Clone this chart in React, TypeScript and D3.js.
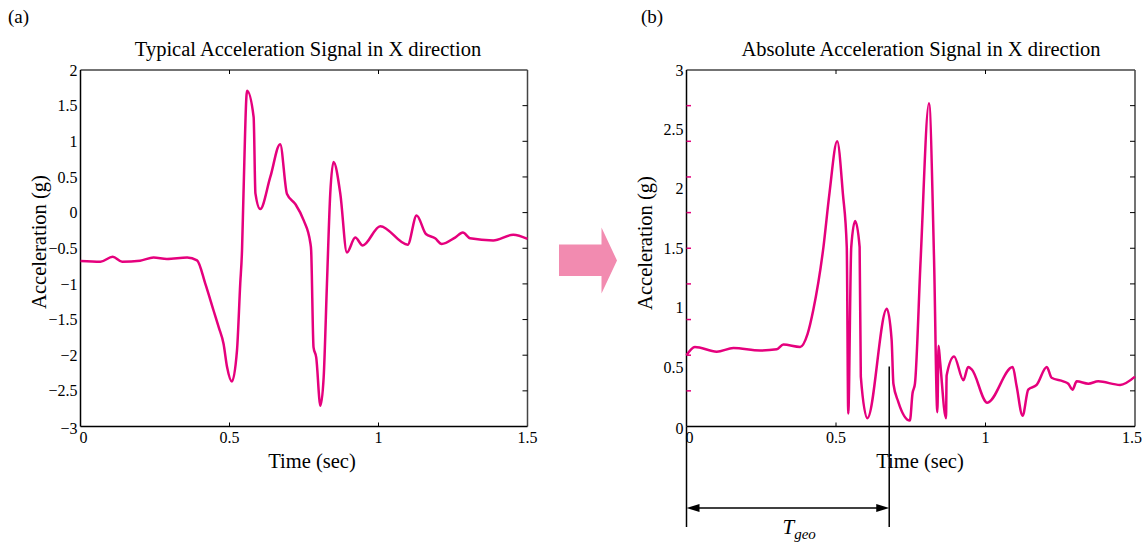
import React from 'react';
import * as d3 from 'd3';

// ---------- data ----------
const timeA = [0, 0.067, 0.108, 0.14, 0.2, 0.245, 0.29, 0.358, 0.391, 0.419, 0.447, 0.464, 0.48, 0.492, 0.508, 0.525, 0.536, 0.542, 0.547, 0.559, 0.581, 0.587, 0.603, 0.637, 0.67, 0.693, 0.721, 0.749, 0.771, 0.774, 0.782, 0.791, 0.805, 0.816, 0.827, 0.838, 0.849, 0.872, 0.894, 0.922, 0.947, 1.006, 1.098, 1.128, 1.159, 1.19, 1.212, 1.257, 1.283, 1.307, 1.385, 1.452, 1.5];
const accelA = [-0.68, -0.69, -0.62, -0.69, -0.675, -0.63, -0.65, -0.63, -0.67, -1.0, -1.38, -1.61, -1.84, -2.17, -2.37, -1.94, -1.0, -0.53, 0.27, 1.71, 1.34, 0.27, 0.05, 0.5, 0.96, 0.26, 0.12, -0.11, -0.42, -0.53, -1.89, -2.03, -2.71, -2.31, -1.0, 0.26, 0.71, 0.26, -0.56, -0.35, -0.46, -0.19, -0.45, -0.04, -0.3, -0.36, -0.44, -0.35, -0.28, -0.36, -0.39, -0.31, -0.37];

const timeB = [0, 0.028, 0.101, 0.157, 0.246, 0.302, 0.324, 0.38, 0.405, 0.424, 0.458, 0.478, 0.504, 0.523, 0.536, 0.541, 0.551, 0.564, 0.579, 0.583, 0.605, 0.67, 0.686, 0.692, 0.708, 0.747, 0.756, 0.764, 0.783, 0.811, 0.828, 0.839, 0.843, 0.848, 0.868, 0.87, 0.895, 0.926, 0.942, 0.954, 1.006, 1.091, 1.104, 1.124, 1.143, 1.171, 1.205, 1.221, 1.26, 1.277, 1.291, 1.305, 1.344, 1.377, 1.45, 1.5];
const absAccelB = [0.6, 0.67, 0.63, 0.66, 0.64, 0.65, 0.69, 0.67, 0.78, 0.98, 1.51, 1.96, 2.4, 1.96, 1.51, 0.11, 1.51, 1.73, 1.51, 0.42, 0.07, 0.99, 0.73, 0.36, 0.21, 0.05, 0.28, 0.36, 1.4, 2.72, 1.4, 0.12, 0.68, 0.55, 0.07, 0.43, 0.59, 0.39, 0.5, 0.48, 0.2, 0.5, 0.34, 0.09, 0.31, 0.35, 0.5, 0.41, 0.38, 0.36, 0.31, 0.38, 0.36, 0.38, 0.35, 0.42];

const xTicks = [0, 0.5, 1, 1.5];
const xTickLabels = ['0', '0.5', '1', '1.5'];
const yTicksA = [2, 1.5, 1, 0.5, 0, -0.5, -1, -1.5, -2, -2.5, -3];
const yTicksB = [3, 2.5, 2, 1.5, 1, 0.5, 0];
const innerTicksA = [1.5, 1, 0.5, 0, -0.5, -1, -1.5, -2, -2.5];
const innerXTicks = [0.5, 1];
const tGeo = 0.678;

const titleA = 'Typical Acceleration Signal in X direction';
const titleB = 'Absolute Acceleration Signal in X direction';

// ---------- layout ----------
const FONT = '"Liberation Serif", "Times New Roman", Times, serif';
const MAGENTA = '#e5007d';
const PINK_ARROW = '#f28bb0';
const top = 70, bottom = 426.5;
const A = { x0: 80.5, x1: 527.5 };
const B = { x0: 686.5, x1: 1135 };

const fmt = (v: number) => (v < 0 ? '\u2212' + String(Math.abs(v)) : String(v));

export default function App() {
  const xA = d3.scaleLinear().domain([0, 1.5]).range([A.x0, A.x1]);
  const yA = d3.scaleLinear().domain([-3, 2]).range([bottom, top]);
  const xB = d3.scaleLinear().domain([0, 1.5]).range([B.x0, B.x1]);
  const yB = d3.scaleLinear().domain([0, 3]).range([bottom, top]);
  const yTickB = yA;

  const lineA = d3.line<number>().x((_, i) => xA(timeA[i])).y((d) => yA(d)).curve(d3.curveMonotoneX);
  const lineB = d3.line<number>().x((_, i) => xB(timeB[i])).y((d) => yB(d)).curve(d3.curveMonotoneX);

  const T = (props: any) => <text style={{ fontFamily: FONT }} fill="#000" {...props} />;

  const frame = (x0: number, x1: number) => (
    <g>
      <line x1={x0} x2={x1} y1={top} y2={top} stroke="#444" strokeWidth={1.5} />
      <line x1={x1} x2={x1} y1={top} y2={bottom} stroke="#444" strokeWidth={1.5} />
      <line x1={x0} x2={x1} y1={bottom} y2={bottom} stroke="#000" strokeWidth={1.5} />
      <line x1={x0} x2={x0} y1={top} y2={bottom} stroke="#000" strokeWidth={1.5} />
    </g>
  );

  const xTg = xB(tGeo);
  const arrowY = 508;

  return (
    <svg width={1143} height={542} style={{ position: 'absolute', left: 0, top: 0, fontFamily: FONT }}>
      <rect width={1143} height={542} fill="#fff" />
      <T x={8} y={23} fontSize={19}>(a)</T>
      <T x={641} y={23} fontSize={19}>(b)</T>

      {/* ---- Panel A ---- */}
      <T x={308} y={56} fontSize={20.5} textAnchor="middle">{titleA}</T>
      {frame(A.x0, A.x1)}
      {innerTicksA.map((v) => (
        <line key={'ra' + v} x1={A.x1 - 5} x2={A.x1} y1={yA(v)} y2={yA(v)} stroke="#000" strokeWidth={1} />
      ))}
      {innerXTicks.map((v) => (
        <g key={'xa' + v}>
          <line x1={xA(v)} x2={xA(v)} y1={top} y2={top + 4} stroke="#000" strokeWidth={1} />
          <line x1={xA(v)} x2={xA(v)} y1={bottom} y2={bottom - 4} stroke="#000" strokeWidth={1} />
        </g>
      ))}
      {yTicksA.map((v) => (
        <T key={'ya' + v} x={A.x0 - 3} y={yA(v) + (v === -3 ? 2 : 0)} dy="0.35em" fontSize={16} textAnchor="end">{fmt(v)}</T>
      ))}
      {xTicks.map((v, i) => (
        <T key={'xla' + v} x={xA(v) + (i === 0 ? 3 : 0)} y={443} fontSize={16} textAnchor="middle">{xTickLabels[i]}</T>
      ))}
      <T x={312} y={468} fontSize={20.5} textAnchor="middle">Time (sec)</T>
      <T transform={`translate(46, 242) rotate(-90)`} fontSize={20.5} textAnchor="middle">Acceleration (g)</T>
      <path d={lineA(accelA) || ''} fill="none" stroke={MAGENTA} strokeWidth={2.5} strokeLinejoin="round" />

      {/* ---- Arrow ---- */}
      <polygon points="559,244.5 601.5,244.5 601.5,227.5 617,260.5 601.5,293.5 601.5,276 559,276" fill={PINK_ARROW} />

      {/* ---- Panel B ---- */}
      <T x={921} y={56} fontSize={20.5} textAnchor="middle">{titleB}</T>
      {frame(B.x0, B.x1)}
      {innerTicksA.map((v) => (
        <g key={'rb' + v}>
          <line x1={B.x1 - 5} x2={B.x1} y1={yTickB(v)} y2={yTickB(v)} stroke="#000" strokeWidth={1} />
          <line x1={B.x0} x2={B.x0 + 4.5} y1={yTickB(v)} y2={yTickB(v)} stroke={MAGENTA} strokeWidth={1.5} />
        </g>
      ))}
      {innerXTicks.map((v) => (
        <g key={'xb' + v}>
          <line x1={xB(v)} x2={xB(v)} y1={top} y2={top + 4} stroke="#000" strokeWidth={1} />
          <line x1={xB(v)} x2={xB(v)} y1={bottom} y2={bottom - 4} stroke="#000" strokeWidth={1} />
        </g>
      ))}
      {yTicksB.map((v) => (
        <T key={'yb' + v} x={B.x0 - 3} y={yB(v) + (v === 0 ? 2 : 0)} dy="0.35em" fontSize={16} textAnchor="end">{fmt(v)}</T>
      ))}
      {xTicks.map((v, i) => (
        i === xTicks.length - 1
          ? <T key={'xlb' + v} x={1142} y={443} fontSize={16} textAnchor="end">{xTickLabels[i]}</T>
          : <T key={'xlb' + v} x={xB(v) + (i === 0 ? 3 : 0)} y={443} fontSize={16} textAnchor="middle">{xTickLabels[i]}</T>
      ))}
      <T x={920} y={468} fontSize={20.5} textAnchor="middle">Time (sec)</T>
      <T transform={`translate(652, 243) rotate(-90)`} fontSize={20.5} textAnchor="middle">Acceleration (g)</T>
      <path d={lineB(absAccelB) || ''} fill="none" stroke={MAGENTA} strokeWidth={2.5} strokeLinejoin="round" />

      {/* ---- T_geo annotation ---- */}
      <line x1={B.x0} x2={B.x0} y1={bottom} y2={527} stroke="#000" strokeWidth={1.5} />
      <line x1={xTg} x2={xTg} y1={366.5} y2={527} stroke="#000" strokeWidth={1.5} />
      <line x1={B.x0 + 10} x2={xTg - 10} y1={arrowY} y2={arrowY} stroke="#000" strokeWidth={1.5} />
      <polygon points={`${B.x0},${arrowY} ${B.x0 + 13},${arrowY - 4} ${B.x0 + 13},${arrowY + 4}`} fill="#000" />
      <polygon points={`${xTg},${arrowY} ${xTg - 13},${arrowY - 4} ${xTg - 13},${arrowY + 4}`} fill="#000" />
      <T x={782.5} y={534} fontSize={21} fontStyle="italic">T<tspan fontSize={15} dy={5}>geo</tspan></T>
    </svg>
  );
}
